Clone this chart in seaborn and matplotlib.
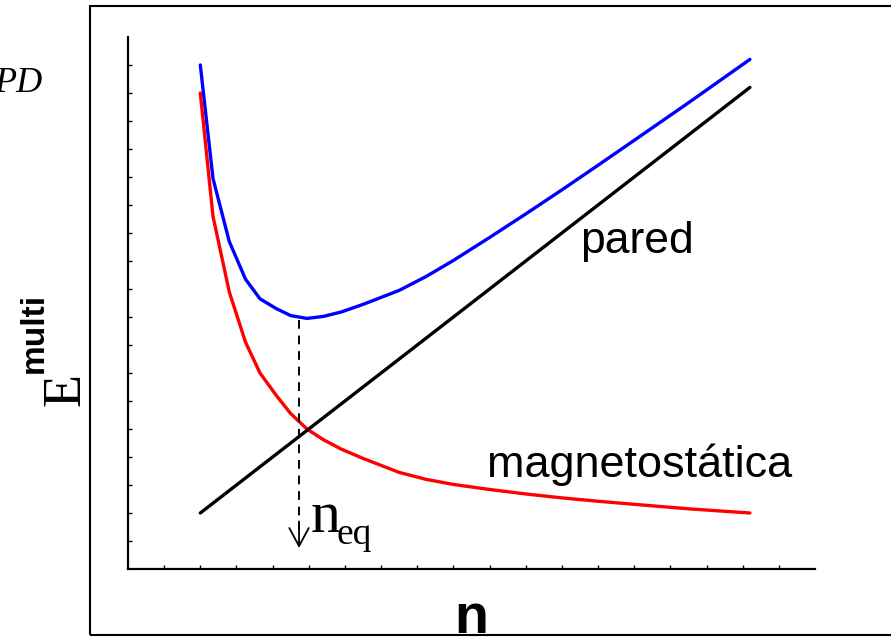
import matplotlib
matplotlib.use("Agg")
import matplotlib.pyplot as plt
import seaborn as sns
import pandas as pd
from matplotlib.patches import Rectangle

# ---- data ----
n_vals = [2.0, 2.35, 2.8, 3.25, 3.65, 4.1, 4.5, 4.95, 5.4, 5.9, 6.5, 7.0, 7.5,
          8.25, 9.0, 10.0, 11.0, 12.0, 13.0, 14.0, 15.5, 17.2]
e_magneto = [17.0, 12.6, 9.9, 8.1, 7.0, 6.2, 5.55, 5.0, 4.62, 4.28, 3.95, 3.7, 3.45,
             3.2, 3.02, 2.84, 2.68, 2.54, 2.42, 2.31, 2.15, 2.0]
e_total = [18.0, 13.95, 11.7, 10.35, 9.65, 9.3, 9.05, 8.95, 9.02, 9.18, 9.45, 9.7, 9.95,
           10.45, 11.02, 11.84, 12.68, 13.54, 14.42, 15.31, 16.65, 18.2]
n_wall = [2.0, 17.2]
e_wall = [2.0, 17.2]
n_eq = 4.73
n_eq_top = 8.9
n_eq_arrow_start = 1.4
n_eq_arrow_end = 0.75
ticks = list(range(1, 19))

W, H = 891, 637
sns.set_style("white")
plt.rcParams['font.family'] = ['Liberation Sans', 'DejaVu Sans']

fig = plt.figure(figsize=(W / 100, H / 100), dpi=100)
ax = fig.add_axes([128 / W, (H - 569) / H, 687 / W, (569 - 37) / H])

def fx(x):
    return x / W

def fy(y):
    return 1 - y / H

df_tot = pd.DataFrame({"n": n_vals, "E": e_total})
df_mag = pd.DataFrame({"n": n_vals, "E": e_magneto})
df_wall = pd.DataFrame({"n": n_wall, "E": e_wall})

sns.lineplot(data=df_tot, x="n", y="E", ax=ax, color="#0000ff", lw=2.4,
             sort=False, estimator=None)
sns.lineplot(data=df_mag, x="n", y="E", ax=ax, color="#ff0000", lw=2.4,
             sort=False, estimator=None)
sns.lineplot(data=df_wall, x="n", y="E", ax=ax, color="black", lw=2.4,
             sort=False, estimator=None)

ax.plot([n_eq, n_eq], [n_eq_top, n_eq_arrow_start], color="black", lw=1.4,
        linestyle=(0, (4.5, 3.5)))
ax.annotate("", xy=(n_eq, n_eq_arrow_end), xytext=(n_eq, n_eq_arrow_start + 0.3),
            arrowprops=dict(arrowstyle="->,head_length=1.3,head_width=0.7",
                            lw=1.3, color="black", mutation_scale=10,
                            shrinkA=0, shrinkB=0))

ax.set_xlim(0, 19)
ax.set_ylim(0, 19)
ax.set_xticks(ticks)
ax.set_yticks(ticks)
ax.set_xticklabels([])
ax.set_yticklabels([])
ax.tick_params(direction="in", length=3, width=1, color="black",
               bottom=True, left=True)
ax.set_xlabel("")
ax.set_ylabel("")
for s in ["top", "right"]:
    ax.spines[s].set_visible(False)
for s in ["left", "bottom"]:
    ax.spines[s].set_color("black")
    ax.spines[s].set_linewidth(1.6)

# curve labels
fig.text(fx(580), fy(253), "pared", fontsize=32, color="black",
         ha="left", va="baseline", family=["Liberation Sans"])
fig.text(fx(487), fy(477), "magnetostática", fontsize=32.4, color="black",
         ha="left", va="baseline", family=["Liberation Sans"])
# n_eq
fig.text(fx(311), fy(532), "n", fontsize=43, color="black",
         ha="left", va="baseline", family=["Liberation Serif"])
fig.text(fx(337), fy(544), "eq", fontsize=27, color="black",
         ha="left", va="baseline", family=["Liberation Serif"])

# axis labels
fig.text(fx(454), fy(633), "n", fontsize=40, fontweight="bold", color="black",
         ha="left", va="baseline", family=["Liberation Sans"])
fig.text(fx(79), fy(406), "E", fontsize=39, color="black", rotation=90,
         ha="left", va="baseline", family=["Liberation Serif"],
         rotation_mode="anchor")
fig.text(fx(43), fy(373), "multi", fontsize=24, fontweight="bold", color="black",
         rotation=90, ha="left", va="baseline", family=["Liberation Sans"],
         rotation_mode="anchor")

# cut-off text at left
fig.text(fx(42), fy(92), "PD", fontsize=26, style="italic", color="black",
         ha="right", va="baseline", family=["Liberation Serif"])

# outer frame (extends past the right edge)
fig.patches.append(Rectangle((fx(90), fy(635)), fx(900) - fx(90), fy(6) - fy(635),
                             transform=fig.transFigure, fill=False,
                             edgecolor="black", lw=1.5, clip_on=False))

fig.savefig("out.png", dpi=100)
